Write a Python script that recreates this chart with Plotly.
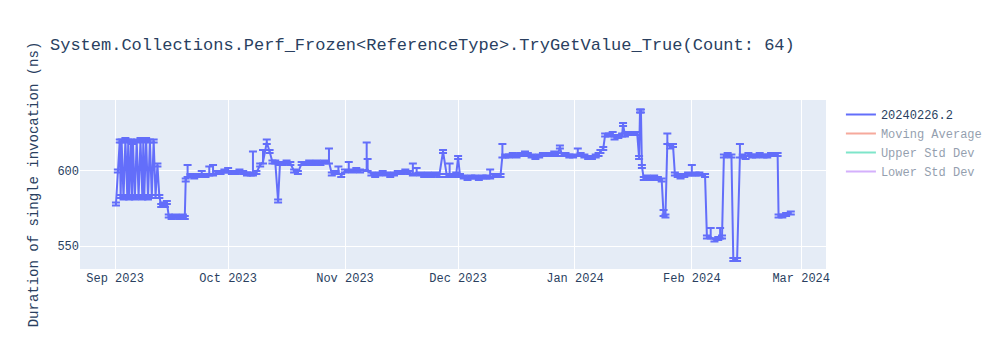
import plotly.graph_objects as go
import pandas as pd

series_name = "20240226.2"
title_text = "System.Collections.Perf_Frozen<ReferenceType>.TryGetValue_True(Count: 64)"
y_title = "Duration of single invocation (ns)"

dates = [
    # Sep (oscillation) 39
    "2023-09-01 06:00", "2023-09-01 18:00", "2023-09-02 06:00", "2023-09-02 12:00", "2023-09-02 18:00",
    "2023-09-03 06:00", "2023-09-03 18:00", "2023-09-04 06:00", "2023-09-04 12:00", "2023-09-04 18:00",
    "2023-09-05 06:00", "2023-09-05 12:00", "2023-09-05 18:00", "2023-09-06 06:00", "2023-09-06 18:00",
    "2023-09-07 06:00", "2023-09-07 18:00", "2023-09-08 06:00", "2023-09-08 12:00", "2023-09-08 18:00",
    "2023-09-09 06:00", "2023-09-09 18:00", "2023-09-10 06:00", "2023-09-10 18:00", "2023-09-11 06:00",
    "2023-09-11 18:00", "2023-09-12 06:00", "2023-09-12 18:00", "2023-09-13 06:00", "2023-09-13 18:00",
    "2023-09-14 06:00", "2023-09-14 18:00", "2023-09-15 06:00", "2023-09-16 00:00", "2023-09-17 00:00",
    "2023-09-18 00:00", "2023-09-19 00:00", "2023-09-19 12:00", "2023-09-19 18:00",
    # Sep 20 - Oct 31 : 45
    "2023-09-20 06:00", "2023-09-21 00:00", "2023-09-22 00:00", "2023-09-23 00:00", "2023-09-24 00:00",
    "2023-09-25 00:00", "2023-09-26 00:00", "2023-09-27 00:00", "2023-09-28 00:00", "2023-09-29 00:00",
    "2023-09-30 00:00", "2023-10-01 00:00", "2023-10-02 00:00", "2023-10-03 00:00", "2023-10-04 00:00",
    "2023-10-05 00:00", "2023-10-06 00:00", "2023-10-07 00:00", "2023-10-07 14:00", "2023-10-08 12:00",
    "2023-10-09 12:00", "2023-10-10 06:00", "2023-10-11 06:00", "2023-10-12 00:00", "2023-10-12 18:00",
    "2023-10-13 12:00", "2023-10-14 06:00", "2023-10-14 18:00", "2023-10-15 12:00", "2023-10-16 12:00",
    "2023-10-17 12:00", "2023-10-18 12:00", "2023-10-19 12:00", "2023-10-20 12:00", "2023-10-21 12:00",
    "2023-10-22 12:00", "2023-10-23 12:00", "2023-10-24 12:00", "2023-10-25 12:00", "2023-10-26 12:00",
    "2023-10-27 18:00", "2023-10-28 12:00", "2023-10-29 12:00", "2023-10-30 06:00", "2023-10-31 00:00",
    # Nov : 31
    "2023-11-01 00:00", "2023-11-02 00:00", "2023-11-03 00:00", "2023-11-04 00:00", "2023-11-05 00:00",
    "2023-11-06 18:00", "2023-11-07 00:00", "2023-11-08 00:00", "2023-11-09 00:00", "2023-11-10 00:00",
    "2023-11-11 00:00", "2023-11-12 00:00", "2023-11-13 00:00", "2023-11-14 00:00", "2023-11-15 00:00",
    "2023-11-16 00:00", "2023-11-17 00:00", "2023-11-18 00:00", "2023-11-19 00:00", "2023-11-20 00:00",
    "2023-11-21 00:00", "2023-11-22 00:00", "2023-11-23 00:00", "2023-11-24 00:00", "2023-11-25 00:00",
    "2023-11-26 00:00", "2023-11-27 00:00", "2023-11-28 00:00", "2023-11-28 18:00", "2023-11-29 12:00",
    "2023-11-30 12:00",
    # Dec : 34
    "2023-12-01 00:00", "2023-12-01 12:00", "2023-12-02 12:00", "2023-12-03 12:00", "2023-12-04 12:00",
    "2023-12-05 12:00", "2023-12-06 12:00", "2023-12-07 12:00", "2023-12-08 12:00", "2023-12-09 12:00",
    "2023-12-10 12:00", "2023-12-11 12:00", "2023-12-12 06:00", "2023-12-12 18:00", "2023-12-13 12:00",
    "2023-12-14 12:00", "2023-12-15 12:00", "2023-12-16 12:00", "2023-12-17 12:00", "2023-12-18 18:00",
    "2023-12-19 12:00", "2023-12-20 12:00", "2023-12-21 12:00", "2023-12-22 12:00", "2023-12-23 12:00",
    "2023-12-24 12:00", "2023-12-25 12:00", "2023-12-26 12:00", "2023-12-27 12:00", "2023-12-28 00:00",
    "2023-12-28 12:00", "2023-12-29 12:00", "2023-12-30 12:00", "2023-12-31 12:00",
    # Jan : 41
    "2024-01-01 18:00", "2024-01-02 12:00", "2024-01-03 12:00", "2024-01-04 12:00", "2024-01-05 12:00",
    "2024-01-06 12:00", "2024-01-07 06:00", "2024-01-07 18:00", "2024-01-08 12:00", "2024-01-09 00:00",
    "2024-01-10 00:00", "2024-01-11 00:00", "2024-01-11 12:00", "2024-01-12 12:00", "2024-01-13 12:00",
    "2024-01-13 18:00", "2024-01-14 06:00", "2024-01-15 00:00", "2024-01-16 00:00", "2024-01-17 00:00",
    "2024-01-17 12:00", "2024-01-18 00:00", "2024-01-18 06:00", "2024-01-18 12:00", "2024-01-18 18:00",
    "2024-01-19 06:00", "2024-01-20 00:00", "2024-01-21 00:00", "2024-01-22 00:00", "2024-01-23 00:00",
    "2024-01-24 00:00", "2024-01-24 12:00", "2024-01-25 00:00", "2024-01-25 12:00", "2024-01-26 06:00",
    "2024-01-27 00:00", "2024-01-27 12:00", "2024-01-28 06:00", "2024-01-29 00:00", "2024-01-30 00:00",
    "2024-01-31 00:00",
    # Feb : 31
    "2024-02-01 00:00", "2024-02-02 00:00", "2024-02-03 00:00", "2024-02-04 12:00", "2024-02-05 00:00",
    "2024-02-06 00:00", "2024-02-07 00:00", "2024-02-08 00:00", "2024-02-08 12:00", "2024-02-09 00:00",
    "2024-02-09 12:00", "2024-02-10 12:00", "2024-02-11 12:00", "2024-02-12 00:00", "2024-02-13 00:00",
    "2024-02-13 18:00", "2024-02-14 12:00", "2024-02-15 06:00", "2024-02-16 00:00", "2024-02-17 00:00",
    "2024-02-18 00:00", "2024-02-19 00:00", "2024-02-20 00:00", "2024-02-21 00:00", "2024-02-22 00:00",
    "2024-02-23 00:00", "2024-02-23 18:00", "2024-02-24 00:00", "2024-02-25 00:00", "2024-02-26 00:00",
    "2024-02-27 06:00",
]

values = [
    # Sep oscillation 39
    578, 600, 620, 583, 620, 582, 621, 583, 620, 582,
    620, 583, 619, 582, 620, 583, 621, 582, 620, 583,
    621, 582, 620, 583, 620, 583, 604, 583, 577, 578,
    577, 579, 570, 569, 570, 569, 570, 569, 594,
    # Sep 20 - Oct 31 : 45
    597, 597, 596, 597, 598, 597, 598, 598, 599, 599,
    600, 600, 599, 599, 600, 599, 598, 598, 598, 599,
    604, 606, 619, 613, 606, 606, 580, 605, 605, 606,
    605, 600, 599, 605, 605, 606, 605, 606, 605, 606,
    606, 598, 599, 599, 597,
    # Nov : 31
    600, 601, 600, 601, 600, 601, 601, 598, 597, 598,
    599, 598, 597, 598, 599, 599, 600, 599, 598, 599,
    598, 597, 598, 597, 598, 597, 613, 597, 598, 597,
    598,
    # Dec : 34
    609, 597, 596, 595, 596, 596, 595, 596, 596, 596,
    597, 597, 597, 610, 610, 610, 611, 610, 611, 612,
    611, 610, 609, 610, 611, 611, 611, 612, 611, 616,
    611, 611, 610, 610,
    # Jan : 41
    611, 611, 610, 609, 609, 610, 611, 613, 615, 624,
    624, 625, 622, 623, 624, 631, 624, 625, 625, 625,
    625, 609, 640, 640, 603, 595, 596, 595, 596, 595,
    594, 571, 570, 619, 616, 617, 598, 597, 596, 597,
    598,
    # Feb : 31
    598, 598, 598, 597, 556, 556, 554, 555, 556, 556,
    610, 611, 610, 541, 541, 610, 610, 609, 611, 610,
    610, 611, 610, 610, 611, 611, 611, 570, 570, 571,
    572,
]

err_plus = [
    # Sep oscillation 39
    1, 1, 1, 1, 1, 1, 1, 1, 1, 1,
    1, 1, 1, 1, 1, 1, 1, 1, 1, 1,
    1, 1, 1, 1, 1, 1, 1, 1, 1, 1,
    1, 1, 1, 1, 1, 1, 1, 1, 1,
    # Sep 20 - Oct 31 : 45
    7, 1, 1, 1, 2, 1, 5, 6, 1, 1,
    1, 2, 1, 1, 1, 1, 1, 1, 15, 1,
    1, 8, 2, 1, 1, 1, 1, 1, 1, 1,
    1, 1, 1, 1, 1, 1, 1, 1, 1, 1,
    9, 1, 1, 4, 1,
    # Nov : 31
    1, 5, 1, 1, 1, 18, 7, 1, 1, 1,
    1, 1, 1, 1, 1, 1, 1, 1, 7, 3,
    1, 1, 1, 1, 1, 1, 1, 1, 7, 1,
    1,
    # Dec : 34
    1, 1, 1, 1, 1, 1, 1, 1, 1, 5,
    1, 1, 1, 8, 1, 1, 1, 1, 1, 1,
    1, 1, 1, 1, 1, 1, 1, 1, 1, 1,
    1, 1, 1, 1,
    # Jan : 41
    4, 1, 1, 1, 1, 1, 1, 1, 1, 1,
    1, 1, 1, 1, 1, 1, 1, 1, 1, 1,
    1, 1, 1, 1, 1, 1, 1, 1, 1, 1,
    1, 3, 1, 6, 1, 1, 1, 1, 1, 1,
    1,
    # Feb : 31
    6, 1, 1, 1, 1, 6, 1, 1, 6, 1,
    1, 1, 1, 1, 1, 8, 1, 1, 1, 1,
    1, 1, 1, 1, 1, 1, 1, 1, 1, 1,
    1,
]

err_minus = [
    1, 1, 1, 1, 1, 1, 1, 1, 1, 1,
    1, 1, 1, 1, 1, 1, 1, 1, 1, 1,
    1, 1, 1, 1, 1, 1, 1, 1, 1, 1,
    1, 1, 1, 1, 1, 1, 1, 1, 1,
    1, 1, 1, 1, 1, 1, 1, 1, 1, 1,
    1, 1, 1, 1, 1, 1, 1, 1, 1, 1,
    1, 1, 1, 1, 1, 1, 1, 1, 1, 1,
    1, 1, 1, 1, 1, 1, 1, 1, 1, 1,
    1, 1, 1, 1, 1,
    1, 1, 1, 1, 1, 1, 1, 1, 1, 1,
    1, 1, 1, 1, 1, 1, 1, 1, 1, 1,
    1, 1, 1, 1, 1, 1, 1, 1, 1, 1,
    1,
    1, 1, 1, 1, 1, 1, 1, 1, 1, 1,
    1, 1, 1, 1, 1, 1, 1, 1, 1, 1,
    1, 1, 1, 1, 1, 1, 1, 1, 1, 1,
    1, 1, 1, 1,
    1, 1, 1, 1, 1, 1, 1, 1, 1, 1,
    1, 1, 1, 1, 1, 1, 1, 1, 1, 1,
    1, 1, 1, 1, 1, 1, 1, 1, 1, 1,
    1, 1, 1, 1, 1, 1, 1, 1, 1, 1,
    1,
    1, 1, 1, 1, 1, 1, 1, 1, 1, 1,
    1, 1, 1, 1, 1, 1, 1, 1, 1, 1,
    1, 1, 1, 1, 1, 1, 1, 1, 1, 1,
    1,
]

assert len(dates) == len(values) == len(err_plus) == len(err_minus), (
    len(dates), len(values), len(err_plus), len(err_minus))

s = pd.Series(values, index=pd.to_datetime(dates))
mov_avg = s.rolling(10, min_periods=1).mean()
mov_std = s.rolling(10, min_periods=1).std().fillna(0)

font_family = "Liberation Mono, Courier New, monospace"

fig = go.Figure()
fig.add_trace(go.Scatter(
    x=dates, y=values, mode="lines", name=series_name,
    line=dict(color="#636efa", width=2),
    error_y=dict(type="data", symmetric=False, array=err_plus, arrayminus=err_minus,
                 color="#636efa", thickness=2, width=4),
))
fig.add_trace(go.Scatter(x=dates, y=mov_avg.values, mode="lines", name="Moving Average",
                         line=dict(color="#EF553B"), visible="legendonly"))
fig.add_trace(go.Scatter(x=dates, y=(mov_avg + mov_std).values, mode="lines", name="Upper Std Dev",
                         line=dict(color="#00cc96"), visible="legendonly"))
fig.add_trace(go.Scatter(x=dates, y=(mov_avg - mov_std).values, mode="lines", name="Lower Std Dev",
                         line=dict(color="#ab63fa"), visible="legendonly"))

fig.update_layout(
    width=1000, height=350,
    template="plotly",
    font=dict(family=font_family, size=12),
    title=dict(text=title_text),
    margin=dict(l=80, r=174, t=100, b=81),
    yaxis=dict(title=dict(text=y_title), range=[534.7, 647.3], dtick=50, tick0=0),
    xaxis=dict(range=["2023-08-22 17:00", "2024-03-07 14:00"], dtick="M1",
               tickformat="%b %Y"),
)

fig.write_html("out.html")
